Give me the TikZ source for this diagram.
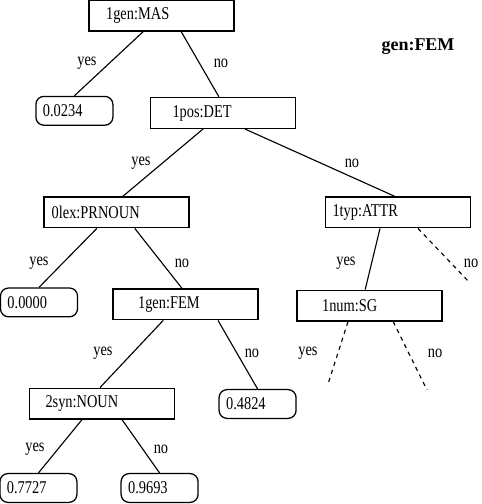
\documentclass[tikz,border=0pt]{standalone}
\usepackage{fontspec}
\setmainfont{Liberation Serif}[FakeStretch=0.80]
\newfontfamily\titlefont{Liberation Serif}
\usepackage{tikz}
\tikzset{
  testbox/.style={draw,line width=0.9pt,inner xsep=0.175cm,minimum height=0.77cm,text width=3.275cm,align=left},
  leafbox/.style={draw,line width=0.9pt,rounded corners=0.2cm,inner xsep=0.175cm,minimum height=0.72cm,text width=1.575cm,align=left},
  branch/.style={line width=0.8pt},
  openbranch/.style={line width=0.8pt,dash pattern=on 3pt off 3pt},
  answer/.style={inner sep=1pt}
}

\begin{document}
\begin{tikzpicture}[x=1cm,y=1cm,font=\fontsize{12.8}{15}\selectfont]
\path[use as bounding box] (0,0) rectangle (12.05,12.60);
% tests
\node[testbox] (mas) at (4.04,12.21) {\hspace*{0.25cm}1gen:MAS};
\node[testbox] (det) at (5.575,9.775) {\hspace*{0.375cm}1pos:DET};
\node[testbox] (lex) at (2.91,7.29) {\hspace*{0.02cm}0lex:PRNOUN};
\node[testbox] (typ) at (9.95,7.29) {1typ:ATTR};
\node[testbox] (fem) at (4.64,4.99) {\hspace*{0.45cm}1gen:FEM};
\node[testbox] (num) at (9.24,4.96) {\hspace*{0.45cm}1num:SG};
\node[testbox] (syn) at (2.55,2.51) {\hspace*{0.225cm}2syn:NOUN};
% leaves
\node[leafbox] (pa) at (1.86,9.83) {0.0234};
\node[leafbox] (pb) at (0.975,5.04) {0.0000};
\node[leafbox] (pc) at (6.44,2.50) {0.4824};
\node[leafbox] (pd) at (0.96,0.40) {0.7727};
\node[leafbox] (pe) at (3.99,0.40) {0.9693};
\node[font=\fontsize{12.8}{15}\titlefont\bfseries] (title) at (10.45,11.425) {gen:FEM};
% open ends
\coordinate (typno) at (11.75,5.525);
\coordinate (numyes) at (8.20,3.00);
\coordinate (numno) at (10.675,2.85);
% branches
\draw[branch] ([xshift=-0.46cm]mas.south) -- (pa.north);
\draw[branch] ([xshift=0.49cm]mas.south) -- ([xshift=-0.10cm]det.north);
\draw[branch] ([xshift=-0.50cm]det.south) -- ([xshift=0.16cm]lex.north);
\draw[branch] ([xshift=0.55cm]det.south) -- ([xshift=-0.08cm]typ.north);
\draw[branch] ([xshift=-0.49cm]lex.south) -- (pb.north);
\draw[branch] ([xshift=0.46cm]lex.south) -- ([xshift=-0.09cm]fem.north);
\draw[branch] ([xshift=-0.45cm]typ.south) -- ([xshift=-0.11cm]num.north);
\draw[openbranch] ([xshift=0.50cm]typ.south) -- (typno);
\draw[branch] ([xshift=-0.56cm]fem.south) -- ([xshift=-0.05cm]syn.north);
\draw[branch] ([xshift=0.81cm]fem.south) -- (pc.north);
\draw[openbranch] ([xshift=-0.54cm]num.south) -- (numyes);
\draw[openbranch] ([xshift=0.59cm]num.south) -- (numno);
\draw[branch] ([xshift=-0.50cm]syn.south) -- (pd.north);
\draw[branch] ([xshift=0.50cm]syn.south) -- (pe.north);
% answers
\node[answer] (y1) at (2.175,11.025) {yes};
\node[answer] (n1) at (5.525,11.025) {no};
\node[answer] (y2) at (3.525,8.525) {yes};
\node[answer] (n2) at (8.80,8.525) {no};
\node[answer] (y3) at (0.975,6.025) {yes};
\node[answer] (n3) at (4.55,6.025) {no};
\node[answer] (y4) at (8.65,6.025) {yes};
\node[answer] (n4) at (11.775,6.025) {no};
\node[answer] (y5) at (2.575,3.775) {yes};
\node[answer] (n5) at (6.30,3.775) {no};
\node[answer] (y6) at (7.70,3.775) {yes};
\node[answer] (n6) at (10.875,3.775) {no};
\node[answer] (y7) at (0.875,1.375) {yes};
\node[answer] (n7) at (4.025,1.375) {no};
\end{tikzpicture}
\end{document}
